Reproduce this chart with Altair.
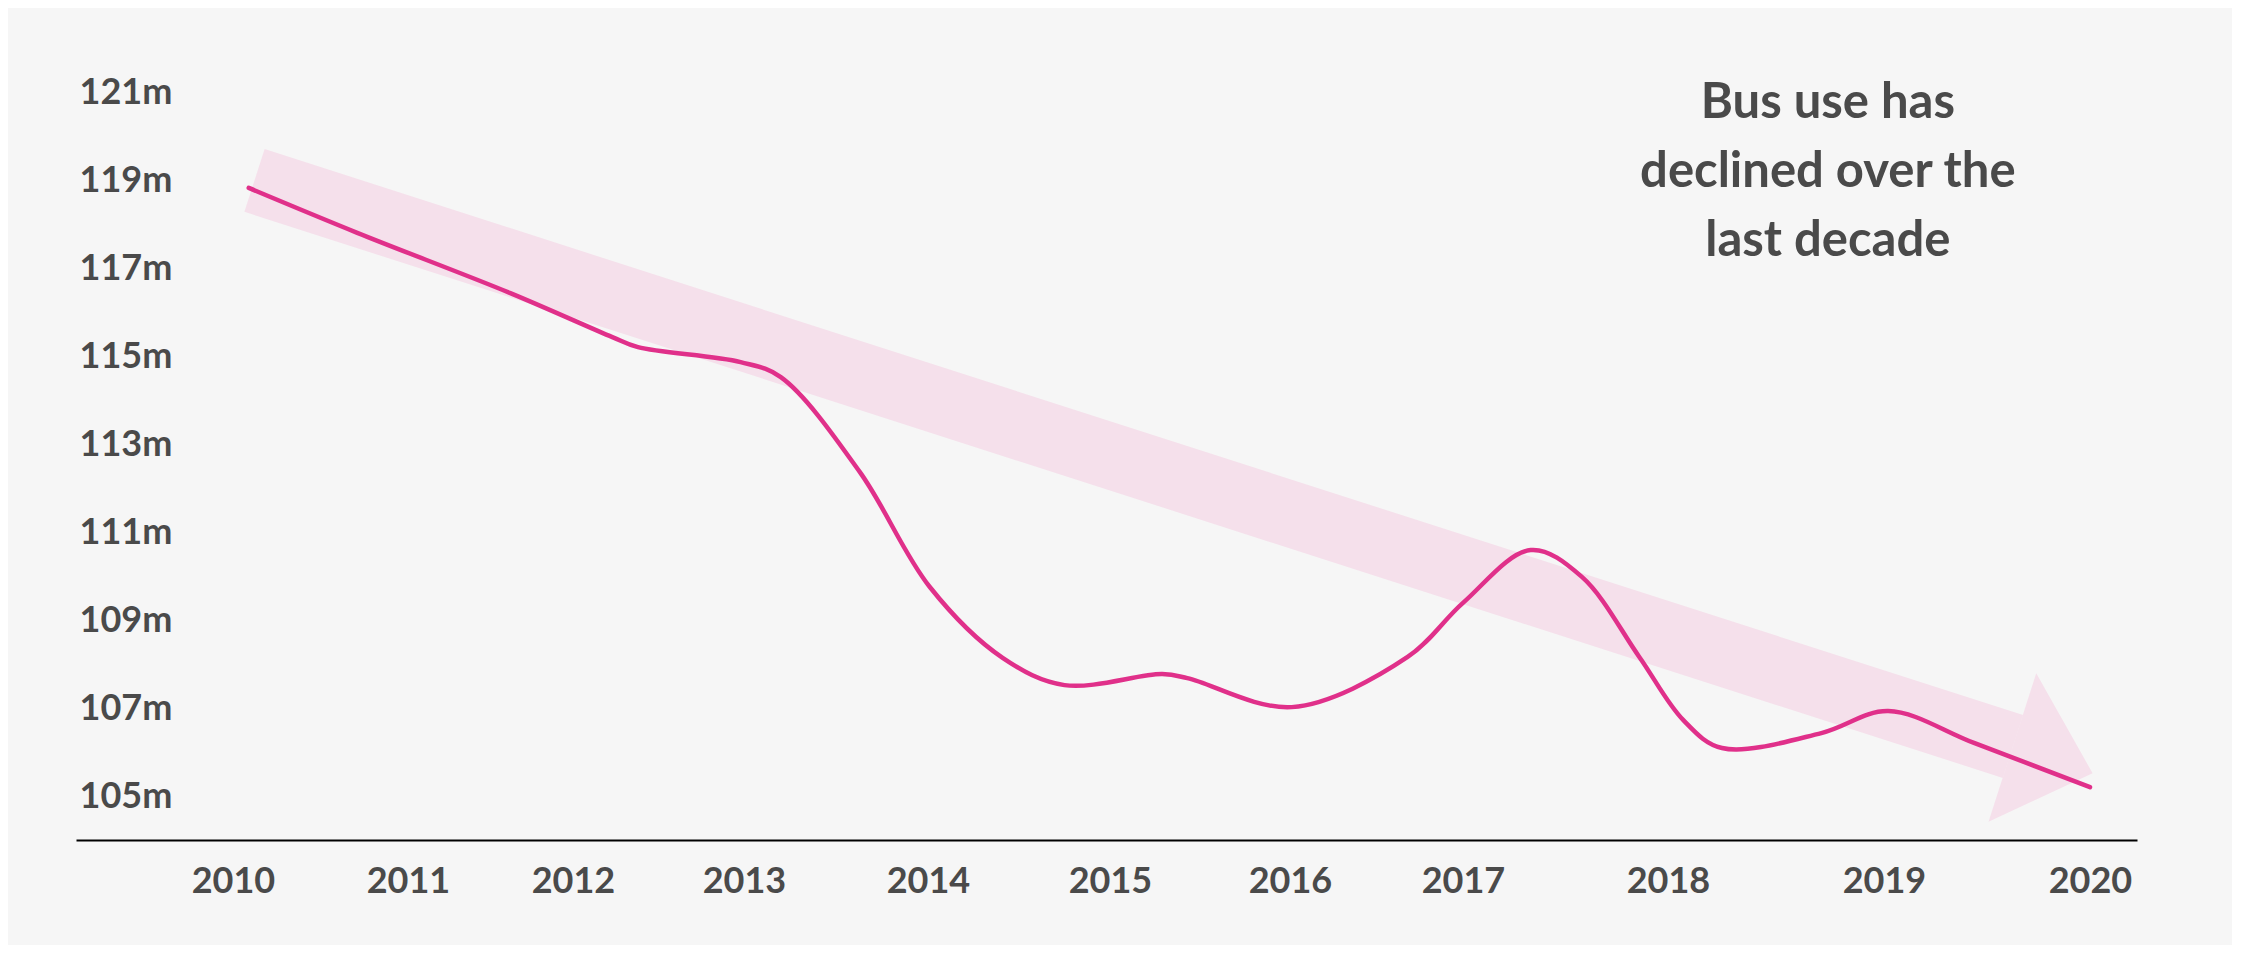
import altair as alt
import pandas as pd

# ---- data ----
tick_years = [2010, 2011, 2012, 2013, 2014, 2015, 2016, 2017, 2018, 2019, 2020]
tick_values = [105, 107, 109, 111, 113, 115, 117, 119, 121]

line_year = [2010.09, 2010.71, 2011.62, 2012.23, 2012.38, 2012.98, 2013.20, 2013.63,
             2014.01, 2014.41, 2014.75, 2015.29, 2015.43, 2016.01, 2016.68, 2017.00,
             2017.33, 2017.58, 2017.86, 2018.07, 2018.25, 2018.71, 2019.02, 2019.44,
             2020.00]
line_value = [118.82, 117.80, 116.43, 115.43, 115.20, 114.86, 114.52, 112.36,
              109.75, 108.14, 107.52, 107.77, 107.68, 107.02, 108.16, 109.39,
              110.59, 109.98, 108.16, 106.73, 106.09, 106.43, 106.93, 106.20,
              105.20]

# trend arrow (shaft start/end and head centre)
arrow_year = [2010.123, 2019.626]
arrow_value = [118.99, 106.125]
head_year = [2019.818]
head_value = [105.81]

note_year = [2018.74]
note_value = [120.41]
note_text = ["Bus use has\ndeclined over the\nlast decade"]

line_df = pd.DataFrame({"year": line_year, "value": line_value})
arrow_df = pd.DataFrame({"year": arrow_year, "value": arrow_value})
head_df = pd.DataFrame({"year": head_year, "value": head_value})
note_df = pd.DataFrame({"year": note_year, "value": note_value, "text": note_text})

FONT = "Lato"
GREY = "#4a4a4a"
PINK = "#e0308a"
LIGHT = "#f5e0eb"

# label positions on the time axis are unevenly spaced in the reference
x_scale = alt.Scale(
    domain=[2009.1] + tick_years + [2020.25],
    range=[0, 157, 332, 497, 668, 852, 1034, 1214, 1387, 1592, 1808, 2014, 2061],
    nice=False, zero=False,
)
y_scale = alt.Scale(domain=[104, 122], nice=False, zero=False)

x_axis = alt.Axis(
    values=tick_years, format="d", title=None, ticks=False, grid=False,
    domain=True, domainColor="#000000", domainWidth=2,
    labelFont=FONT, labelFontSize=36, labelFontWeight="bold", labelColor=GREY,
    labelBaseline="alphabetic", labelPadding=52, labelFlush=False, labelOverlap=False,
)
y_axis = alt.Axis(
    values=tick_values, labelExpr="datum.value + 'm'", title=None, ticks=False,
    grid=False, domain=False, labelAlign="left", labelPadding=-3,
    labelBaseline="middle",
    labelFont=FONT, labelFontSize=36, labelFontWeight="bold", labelColor=GREY,
)

X = alt.X("year:Q", scale=x_scale, axis=x_axis)
Y = alt.Y("value:Q", scale=y_scale, axis=y_axis)

band = alt.Chart(arrow_df).mark_line(
    color=LIGHT, strokeWidth=66, strokeCap="butt"
).encode(x=X, y=Y)

head = alt.Chart(head_df).mark_point(
    shape="M -0.54 -1 L 0.54 0 L -0.54 1 Z", filled=True, fill=LIGHT,
    opacity=1, strokeWidth=0, size=24336, angle=17.8,
).encode(x=X, y=Y)

line = alt.Chart(line_df).mark_line(
    color=PINK, strokeWidth=4.5, strokeCap="round", interpolate="catmull-rom"
).encode(x=X, y=Y)

note = alt.Chart(note_df).mark_text(
    font=FONT, fontSize=49, fontWeight="bold", color=GREY, align="center",
    baseline="alphabetic", lineBreak="\n", lineHeight=69,
).encode(x=X, y=Y, text="text:N")

chart = alt.layer(band, head, line, note).properties(
    width=2061, height=792,
    autosize=alt.AutoSizeParams(type="none"),
    padding={"left": 68, "top": 40, "right": 95, "bottom": 105},
    background="#f6f6f6",
).configure_view(stroke=None)

chart.save("out.html", embed_options={"renderer": "svg", "actions": False})
